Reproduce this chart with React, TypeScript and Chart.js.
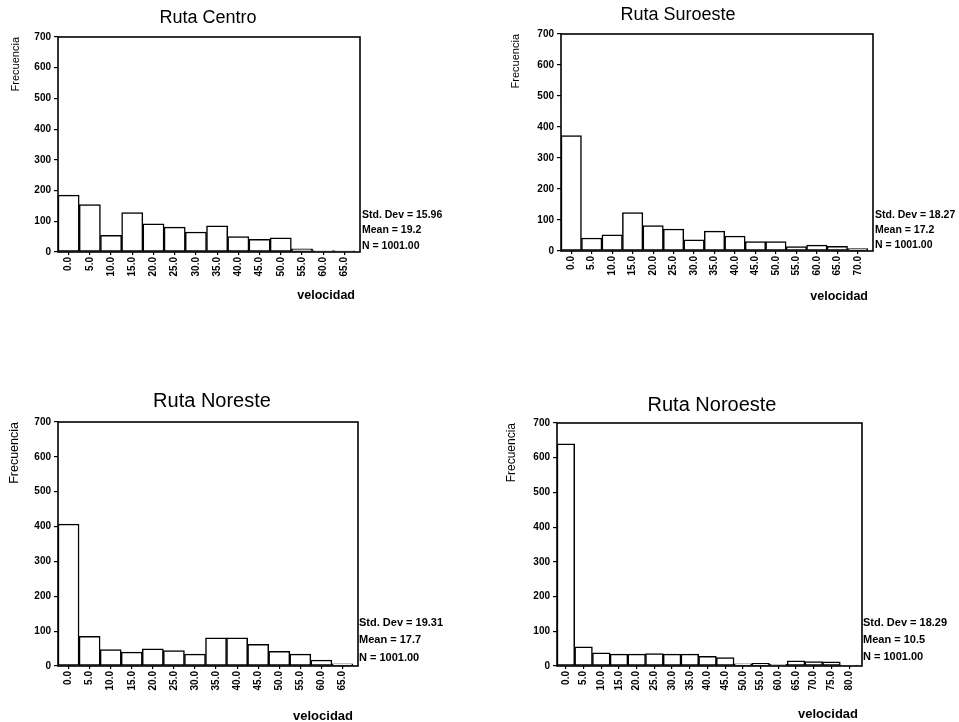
import React, { useEffect, useRef } from 'react';
import { Chart, registerables } from 'chart.js';

Chart.register(...registerables);

// ---------- data ----------
const centroLabels = ['0.0', '5.0', '10.0', '15.0', '20.0', '25.0', '30.0', '35.0', '40.0', '45.0', '50.0', '55.0', '60.0', '65.0'];
const centroValues = [185, 154, 54, 128, 92, 81, 65, 85, 50, 41, 46, 10, 5, 4];
const centroStats = ['Std. Dev = 15.96', 'Mean = 19.2', 'N = 1001.00'];

const suroesteLabels = ['0.0', '5.0', '10.0', '15.0', '20.0', '25.0', '30.0', '35.0', '40.0', '45.0', '50.0', '55.0', '60.0', '65.0', '70.0'];
const suroesteValues = [372, 42, 52, 124, 82, 71, 36, 64, 48, 30, 30, 14, 19, 15, 8];
const suroesteStats = ['Std. Dev = 18.27', 'Mean = 17.2', 'N = 1001.00'];

const noresteLabels = ['0.0', '5.0', '10.0', '15.0', '20.0', '25.0', '30.0', '35.0', '40.0', '45.0', '50.0', '55.0', '60.0', '65.0'];
const noresteValues = [407, 85, 47, 40, 49, 44, 34, 81, 81, 62, 42, 34, 17, 6];
const noresteStats = ['Std. Dev = 19.31', 'Mean = 17.7', 'N = 1001.00'];

const noroesteLabels = ['0.0', '5.0', '10.0', '15.0', '20.0', '25.0', '30.0', '35.0', '40.0', '45.0', '50.0', '55.0', '60.0', '65.0', '70.0', '75.0', '80.0'];
const noroesteValues = [640, 55, 38, 34, 34, 36, 34, 34, 28, 24, 6, 8, 5, 15, 13, 12, 3];
const noroesteStats = ['Std. Dev = 18.29', 'Mean = 10.5', 'N = 1001.00'];

const yMin = 0;
const yMax = 700;
const yStep = 100;
const xAxisTitle = 'velocidad';
const yAxisTitle = 'Frecuencia';

// ---------- layout ----------
const FONT = "'Liberation Sans', Arial, Helvetica, sans-serif";

type PanelDef = {
  title: string;
  labels: string[];
  values: number[];
  stats: string[];
  left: number; top: number; w: number; h: number;
  L: number; T: number; R: number; B: number; boxExt: number;
  titleX: number; titleY: number; titleSize: number;
  yTitleX: number; yTitleSize: number;
  xTitleY: number; xTitleSize: number;
  statsX: number; statsY: number[]; statsSize: number;
};

const panels: PanelDef[] = [
  {
    title: 'Ruta Centro', labels: centroLabels, values: centroValues, stats: centroStats,
    left: 0, top: 0, w: 480, h: 361,
    L: 58, T: 37, R: 355, B: 252, boxExt: 5,
    titleX: 208, titleY: 18, titleSize: 18,
    yTitleX: 16, yTitleSize: 11,
    xTitleY: 296, xTitleSize: 12.5,
    statsX: 362, statsY: [215, 230, 246], statsSize: 10.5,
  },
  {
    title: 'Ruta Suroeste', labels: suroesteLabels, values: suroesteValues, stats: suroesteStats,
    left: 480, top: 0, w: 479, h: 361,
    L: 81, T: 34, R: 388, B: 251, boxExt: 5,
    titleX: 198, titleY: 15, titleSize: 18,
    yTitleX: 36, yTitleSize: 11,
    xTitleY: 297, xTitleSize: 12.5,
    statsX: 395, statsY: [215, 230, 245], statsSize: 10.5,
  },
  {
    title: 'Ruta Noreste', labels: noresteLabels, values: noresteValues, stats: noresteStats,
    left: 0, top: 361, w: 480, h: 361,
    L: 58, T: 61, R: 353, B: 305, boxExt: 5,
    titleX: 212, titleY: 40, titleSize: 20,
    yTitleX: 15, yTitleSize: 12.5,
    xTitleY: 355, xTitleSize: 13,
    statsX: 359, statsY: [262, 279, 297], statsSize: 11,
  },
  {
    title: 'Ruta Noroeste', labels: noroesteLabels, values: noroesteValues, stats: noroesteStats,
    left: 480, top: 361, w: 479, h: 361,
    L: 77, T: 62, R: 378, B: 305, boxExt: 4,
    titleX: 232, titleY: 44, titleSize: 20,
    yTitleX: 32, yTitleSize: 12,
    xTitleY: 353, xTitleSize: 13,
    statsX: 383, statsY: [262, 279, 296], statsSize: 11,
  },
];

const decoPlugin = {
  id: 'deco',
  afterDraw(chart: any, _args: any, opts: any) {
    const { ctx, chartArea: a } = chart;
    ctx.save();
    ctx.strokeStyle = '#000';
    ctx.lineWidth = 1.6;
    ctx.strokeRect(a.left, a.top, a.right + opts.boxExt - a.left, a.bottom - a.top);
    ctx.fillStyle = '#000';
    ctx.font = `${opts.titleSize}px ${FONT}`;
    ctx.textAlign = 'center';
    ctx.textBaseline = 'middle';
    ctx.fillText(opts.title, opts.titleX, opts.titleY);
    ctx.font = `bold ${opts.statsSize}px ${FONT}`;
    ctx.textAlign = 'left';
    const stats: string[] = opts.stats;
    for (let i = 0; i < stats.length; i++) {
      ctx.fillText(stats[i], opts.statsX, opts.statsY[i]);
    }
    ctx.restore();
  },
};

function Panel({ p }: { p: PanelDef }) {
  const ref = useRef<HTMLCanvasElement | null>(null);
  useEffect(() => {
    if (!ref.current) return;
    const chart = new Chart(ref.current, {
      type: 'bar',
      data: {
        labels: p.labels,
        datasets: [
          {
            data: p.values,
            backgroundColor: '#ffffff',
            borderColor: '#000000',
            borderWidth: 1.5,
            borderSkipped: false,
            barPercentage: 1,
            categoryPercentage: 1,
          },
        ],
      },
      options: {
        animation: false,
        responsive: false,
        devicePixelRatio: 1,
        layout: { padding: { left: 0, top: p.T, right: p.w - p.R, bottom: 0 } },
        plugins: {
          legend: { display: false },
          tooltip: { enabled: false },
          title: { display: false },
          deco: {
            title: p.title, titleX: p.titleX, titleY: p.titleY, titleSize: p.titleSize,
            stats: p.stats, statsX: p.statsX, statsY: p.statsY, statsSize: p.statsSize,
            boxExt: p.boxExt,
          },
        } as any,
        scales: {
          x: {
            type: 'category',
            offset: true,
            grid: { display: true, drawOnChartArea: false, drawTicks: true, tickLength: 3, offset: false, color: '#000', lineWidth: 1.2 },
            border: { display: false },
            ticks: {
              autoSkip: false, minRotation: 90, maxRotation: 90, padding: 2, color: '#000',
              font: { family: FONT, size: 10, weight: 'bold' },
            },
            title: {
              display: true, text: xAxisTitle, align: 'end', color: '#000',
              font: { family: FONT, size: p.xTitleSize, weight: 'bold', lineHeight: 1 },
              padding: { top: 0, bottom: p.h - p.xTitleY - p.xTitleSize / 2 },
            },
            afterFit: (s: any) => {
              s.height = p.h - p.B;
              s.paddingLeft = 0;
              s.paddingRight = 0;
            },
          },
          y: {
            type: 'linear',
            min: yMin,
            max: yMax,
            grid: { display: true, drawOnChartArea: false, drawTicks: true, tickLength: 4, color: '#000', lineWidth: 1.2 },
            border: { display: false },
            ticks: {
              stepSize: yStep, padding: 3, color: '#000',
              font: { family: FONT, size: 10, weight: 'bold' },
            },
            title: {
              display: true, text: yAxisTitle, align: 'end', color: '#000',
              font: { family: FONT, size: p.yTitleSize, lineHeight: 1 },
              padding: { top: p.yTitleX - p.yTitleSize / 2, bottom: 0 },
            },
            afterFit: (s: any) => {
              s.width = p.L;
              s.paddingTop = 0;
              s.paddingBottom = 0;
            },
          },
        },
      } as any,
      plugins: [decoPlugin as any],
    });
    return () => chart.destroy();
  }, [p]);
  return (
    <canvas
      ref={ref}
      width={p.w}
      height={p.h}
      style={{ position: 'absolute', left: p.left, top: p.top, width: p.w, height: p.h }}
    />
  );
}

export default function App() {
  return (
    <div style={{ position: 'absolute', left: 0, top: 0, width: 959, height: 722, background: '#fff', overflow: 'hidden' }}>
      {panels.map((p) => (
        <Panel key={p.title} p={p} />
      ))}
    </div>
  );
}
